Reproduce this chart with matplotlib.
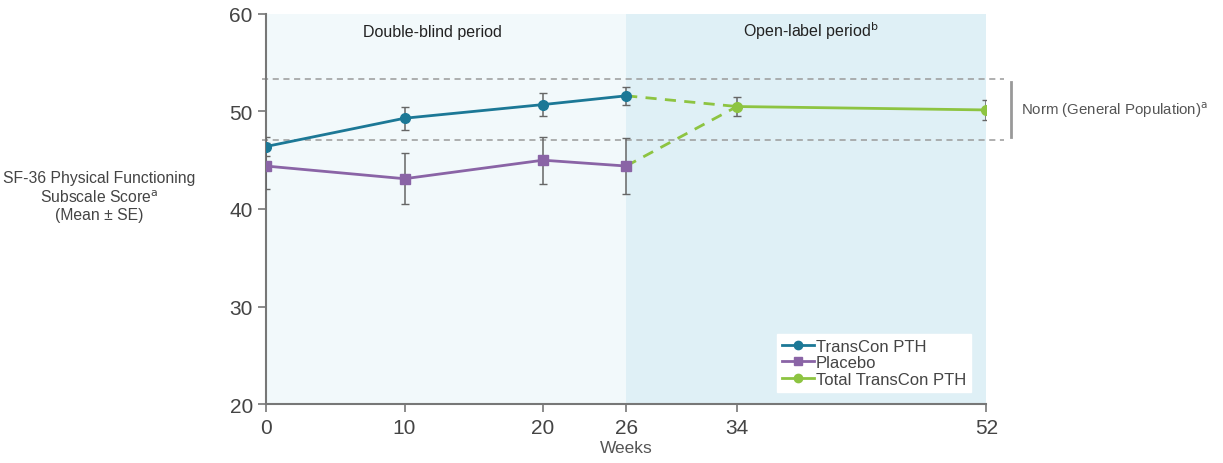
import matplotlib.pyplot as plt
from matplotlib.lines import Line2D

plt.rcParams['font.family'] = ['Liberation Sans', 'DejaVu Sans']

# data
weeks_db = [0, 10, 20, 26]
transcon = [46.4, 49.3, 50.7, 51.6]
transcon_se = [1.0, 1.2, 1.2, 0.9]
placebo = [44.4, 43.1, 45.0, 44.4]
placebo_se = [2.4, 2.6, 2.4, 2.9]
weeks_ol = [34, 52]
total = [50.5, 50.15]
total_se = [1.0, 1.0]
norm_low, norm_high = 47.1, 53.3
xticks = [0, 10, 20, 26, 34, 52]

c_tc = '#1c7896'
c_pl = '#8a64a6'
c_tot = '#8dc441'
c_err = '#666666'

fig = plt.figure(figsize=(12.23, 4.64), dpi=100)
ax = fig.add_axes([0.2175, 0.127, 0.589, 0.841])

ax.axvspan(0, 26, color='#f2f9fb', zorder=0, lw=0)
ax.axvspan(26, 52, color='#dff0f6', zorder=0, lw=0)

for y in (norm_low, norm_high):
    ax.plot([-0.3, 53.3], [y, y], ls=(0, (4, 3)), color='#9a9a9a', lw=1.1, zorder=1, clip_on=False)

# connecting dashed lines into open-label period
ax.plot([26, 34], [transcon[-1], total[0]], ls=(0, (4, 3)), color=c_tot, lw=2, zorder=2)
ax.plot([26, 34], [placebo[-1], total[0]], ls=(0, (4, 3)), color=c_tot, lw=2, zorder=2)

ax.errorbar(weeks_db, transcon, yerr=transcon_se, color=c_tc, marker='o', ms=7, lw=2,
            ecolor=c_err, elinewidth=1.1, capsize=3, zorder=4)
ax.errorbar(weeks_db, placebo, yerr=placebo_se, color=c_pl, marker='s', ms=7, lw=2,
            ecolor=c_err, elinewidth=1.1, capsize=3, zorder=3)
ax.errorbar(weeks_ol, total, yerr=total_se, color=c_tot, marker='o', ms=7, lw=2,
            ecolor=c_err, elinewidth=1.1, capsize=3, zorder=3)

ax.set_xlim(0, 52)
ax.set_ylim(20, 60)
ax.set_xticks(xticks)
ax.set_yticks([20, 30, 40, 50, 60])
for s in ('top', 'right'):
    ax.spines[s].set_visible(False)
for s in ('left', 'bottom'):
    ax.spines[s].set_color('#777777')
    ax.spines[s].set_linewidth(1.5)
ax.tick_params(colors='#777777', labelcolor='#444444', labelsize=15, length=6, width=1.2)
ax.tick_params(axis='x', pad=4)

ax.set_xlabel('Weeks', fontsize=12.5, color='#555555', labelpad=2)
fig.text(0.081, 0.575, 'SF-36 Physical Functioning\nSubscale Score$^{\\mathrm{a}}$\n(Mean ± SE)',
         ha='center', va='center', fontsize=11.3, color='#444444', linespacing=1.2)

ax.text(12, 58.2, 'Double-blind period', ha='center', va='center', fontsize=11.5, color='#222222')
ax.text(39.3, 58.3, 'Open-label period$^{\\mathrm{b}}$', ha='center', va='center', fontsize=11.5, color='#222222')

# norm bracket
ax.plot([53.8, 53.8], [47.4, 53.0], color='#999999', lw=2, clip_on=False)
ax.text(54.5, 50.2, 'Norm (General Population)$^{\\mathrm{a}}$', ha='left', va='center',
        fontsize=10.8, color='#555555', clip_on=False)

handles = [
    Line2D([], [], color=c_tc, marker='o', ms=6, lw=2),
    Line2D([], [], color=c_pl, marker='s', ms=6, lw=2),
    Line2D([], [], color=c_tot, marker='o', ms=6, lw=2),
]
labels = ['TransCon PTH', 'Placebo', 'Total TransCon PTH']
leg = ax.legend(handles, labels, loc='lower right', bbox_to_anchor=(0.99, 0.01), frameon=True,
                fancybox=False, fontsize=12, handlelength=1.9, handletextpad=0.1, borderpad=0.3,
                labelspacing=0.1)
leg.get_frame().set_edgecolor('white')
leg.get_frame().set_facecolor('white')
leg.get_frame().set_alpha(1)
for t in leg.get_texts():
    t.set_color('#444444')

fig.savefig('out.png', dpi=100)
